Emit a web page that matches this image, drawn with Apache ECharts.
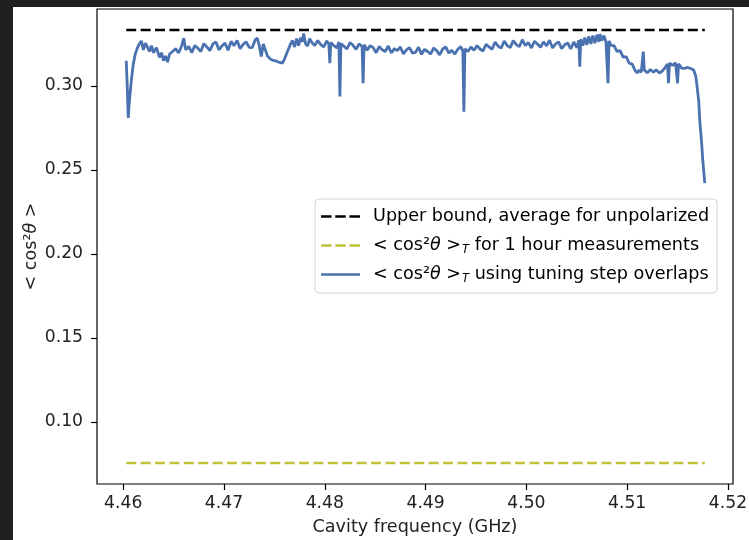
<!DOCTYPE html>
<html>
<head>
<meta charset="utf-8">
<script src="https://cdn.jsdelivr.net/npm/echarts@6/dist/echarts.min.js"></script>
<style>
html, body { margin: 0; padding: 0; background: #1f1f1f; }
#cosChart { width: 749px; height: 540px; }
</style>
</head>
<body>
<div id="cosChart"></div>
<script>
// tick labels
var freqTicks = [4.46, 4.47, 4.48, 4.49, 4.50, 4.51, 4.52];
var cosTicks = [0.10, 0.15, 0.20, 0.25, 0.30];

// flat reference lines (start / end frequency)
var boundFreq = [4.4603, 4.5177];
var upperBound = [0.3333, 0.3333];
var hourAvg = [0.0756, 0.0756];

// <cos^2 theta>_T from tuning step overlaps
var overlapFreq = [
	4.4603, 4.4604, 4.4605, 4.4606, 4.4608, 4.4610, 4.4612, 4.4614, 4.4616, 4.4618,
	4.4620, 4.4622, 4.4624, 4.4626, 4.4628, 4.4630, 4.4633, 4.4636, 4.4638, 4.4640,
	4.4642, 4.4644, 4.4646, 4.4649, 4.4652, 4.4655, 4.4658, 4.4660, 4.4662, 4.4665,
	4.4668, 4.4671, 4.4674, 4.4677, 4.4680, 4.4683, 4.4686, 4.4689, 4.4692, 4.4695,
	4.4698, 4.4701, 4.4704, 4.4707, 4.4710, 4.4713, 4.4716, 4.4719, 4.4722, 4.4725,
	4.4728, 4.4731, 4.4733, 4.4735, 4.4737, 4.4739, 4.4741, 4.4743, 4.4746, 4.4749,
	4.4752, 4.4755, 4.4758, 4.4760, 4.4762, 4.4764, 4.4766, 4.4768, 4.4770, 4.4772,
	4.4774, 4.4776, 4.4778, 4.4779, 4.4781, 4.4783, 4.4785, 4.4787, 4.4790, 4.4793,
	4.4796, 4.4799, 4.4802, 4.4804, 4.4805, 4.4806, 4.4809, 4.4812, 4.4814, 4.4815,
	4.4816, 4.4819, 4.4822, 4.4825, 4.4828, 4.4831, 4.4834, 4.4837, 4.4838, 4.4839,
	4.4842, 4.4845, 4.4848, 4.4851, 4.4854, 4.4857, 4.4860, 4.4863, 4.4866, 4.4869,
	4.4872, 4.4875, 4.4878, 4.4881, 4.4884, 4.4887, 4.4890, 4.4893, 4.4896, 4.4899,
	4.4902, 4.4905, 4.4908, 4.4911, 4.4914, 4.4917, 4.4920, 4.4923, 4.4926, 4.4929,
	4.4932, 4.4935, 4.4937, 4.4938, 4.4939, 4.4942, 4.4945, 4.4948, 4.4951, 4.4954,
	4.4957, 4.4960, 4.4963, 4.4966, 4.4969, 4.4972, 4.4975, 4.4978, 4.4981, 4.4984,
	4.4987, 4.4990, 4.4993, 4.4996, 4.4999, 4.5002, 4.5005, 4.5008, 4.5011, 4.5014,
	4.5017, 4.5020, 4.5023, 4.5026, 4.5029, 4.5032, 4.5035, 4.5038, 4.5041, 4.5044,
	4.5047, 4.5050, 4.5052, 4.5053, 4.5054, 4.5056, 4.5058, 4.5060, 4.5062, 4.5064,
	4.5066, 4.5068, 4.5070, 4.5072, 4.5073, 4.5075, 4.5077, 4.5079, 4.5080, 4.5081,
	4.5082, 4.5084, 4.5087, 4.5090, 4.5093, 4.5096, 4.5099, 4.5102, 4.5105, 4.5108,
	4.5110, 4.5112, 4.5114, 4.5116, 4.5117, 4.5120, 4.5123, 4.5126, 4.5129, 4.5132,
	4.5135, 4.5138, 4.5140, 4.5141, 4.5142, 4.5145, 4.5148, 4.5150, 4.5151, 4.5154,
	4.5157, 4.5160, 4.5163, 4.5166, 4.5168, 4.5169, 4.5171, 4.5172, 4.5174, 4.5175,
	4.5177
];
var overlapCos2 = [
	0.3150, 0.3000, 0.2810, 0.2900, 0.3030, 0.3130, 0.3190, 0.3225, 0.3250, 0.3268,
	0.3215, 0.3255, 0.3232, 0.3205, 0.3240, 0.3198, 0.3228, 0.3170, 0.3198, 0.3150,
	0.3178, 0.3142, 0.3190, 0.3205, 0.3222, 0.3196, 0.3238, 0.3284, 0.3215, 0.3235,
	0.3198, 0.3240, 0.3225, 0.3205, 0.3252, 0.3232, 0.3210, 0.3250, 0.3262, 0.3215,
	0.3238, 0.3255, 0.3212, 0.3265, 0.3240, 0.3270, 0.3222, 0.3248, 0.3262, 0.3230,
	0.3228, 0.3275, 0.3285, 0.3240, 0.3175, 0.3250, 0.3215, 0.3180, 0.3160, 0.3152,
	0.3148, 0.3140, 0.3136, 0.3160, 0.3190, 0.3220, 0.3250, 0.3270, 0.3232, 0.3282,
	0.3240, 0.3288, 0.3262, 0.3312, 0.3250, 0.3238, 0.3282, 0.3260, 0.3240, 0.3270,
	0.3246, 0.3232, 0.3268, 0.3250, 0.3135, 0.3258, 0.3240, 0.3226, 0.3262, 0.2937,
	0.3252, 0.3236, 0.3220, 0.3258, 0.3242, 0.3218, 0.3250, 0.3235, 0.3016, 0.3245,
	0.3212, 0.3240, 0.3228, 0.3198, 0.3236, 0.3215, 0.3205, 0.3238, 0.3196, 0.3222,
	0.3210, 0.3232, 0.3190, 0.3215, 0.3228, 0.3195, 0.3200, 0.3230, 0.3188, 0.3218,
	0.3205, 0.3190, 0.3226, 0.3210, 0.3185, 0.3220, 0.3232, 0.3196, 0.3212, 0.3190,
	0.3218, 0.3235, 0.3205, 0.2847, 0.3222, 0.3205, 0.3232, 0.3212, 0.3240, 0.3220,
	0.3208, 0.3248, 0.3232, 0.3218, 0.3262, 0.3236, 0.3225, 0.3268, 0.3240, 0.3228,
	0.3270, 0.3246, 0.3234, 0.3275, 0.3240, 0.3258, 0.3226, 0.3266, 0.3250, 0.3230,
	0.3262, 0.3238, 0.3272, 0.3226, 0.3250, 0.3262, 0.3222, 0.3245, 0.3256, 0.3220,
	0.3262, 0.3228, 0.3272, 0.3115, 0.3278, 0.3240, 0.3288, 0.3245, 0.3295, 0.3250,
	0.3300, 0.3255, 0.3305, 0.3262, 0.3308, 0.3270, 0.3300, 0.3262, 0.3255, 0.3016,
	0.3268, 0.3242, 0.3240, 0.3205, 0.3210, 0.3172, 0.3175, 0.3135, 0.3130, 0.3090,
	0.3078, 0.3095, 0.3082, 0.3204, 0.3095, 0.3078, 0.3098, 0.3082, 0.3096, 0.3076,
	0.3090, 0.3112, 0.3130, 0.3016, 0.3136, 0.3122, 0.3138, 0.3016, 0.3132, 0.3106,
	0.3105, 0.3110, 0.3104, 0.3095, 0.3060, 0.3016, 0.2910, 0.2798, 0.2650, 0.2560,
	0.2421
];

var seriesNames = [
	'Upper bound, average for unpolarized',
	'< cos²θ >_T for 1 hour measurements',
	'< cos²θ >_T using tuning step overlaps'
];
var legendRich = {
	'Upper bound, average for unpolarized': 'Upper bound, average for unpolarized',
	'< cos²θ >_T for 1 hour measurements': '< cos²{i|θ} >{sub|T} for 1 hour measurements',
	'< cos²θ >_T using tuning step overlaps': '< cos²{i|θ} >{sub|T} using tuning step overlaps'
};
var dashIcon = 'path://M0,0h10.5v2.6h-10.5z M14.2,0h10.5v2.6h-10.5z M28.4,0h10.5v2.6h-10.5z';
var solidIcon = 'path://M0,0h39v2.6h-39z';

function pairs(xs, ys) {
	var out = [];
	for (var i = 0; i < xs.length; i++) {
		out.push([xs[i], ys[i]]);
	}
	return out;
}

var richStyles = {
	i: { fontStyle: 'italic', fontSize: 17.6, fontFamily: 'DejaVu Sans', color: '#000' },
	sub: { fontStyle: 'italic', fontSize: 11.5, fontFamily: 'DejaVu Sans', color: '#000', padding: [9, 0, 0, 1] }
};

var cosChart = echarts.init(document.getElementById('cosChart'));
var option = {
	animation: false,
	backgroundColor: '#ffffff',
	textStyle: { fontFamily: 'DejaVu Sans' },
	graphic: [
		{ type: 'rect', left: 0, top: 0, shape: { width: 749, height: 7 }, style: { fill: '#1f1f1f' }, z: 100 },
		{ type: 'rect', left: 0, top: 0, shape: { width: 13, height: 540 }, style: { fill: '#1f1f1f' }, z: 100 }
	],
	grid: {
		left: 97,
		top: 9,
		right: 16,
		bottom: 56,
		outerBoundsMode: 'none',
		show: true,
		borderColor: '#000',
		borderWidth: 1.2,
		backgroundColor: 'transparent'
	},
	legend: {
		orient: 'vertical',
		left: 315,
		top: 199,
		padding: [7, 8, 8, 6],
		itemGap: 8,
		itemWidth: 39,
		itemHeight: 2.6,
		backgroundColor: 'rgba(255,255,255,0.85)',
		borderColor: '#d4d4d4',
		borderWidth: 1,
		borderRadius: 4,
		data: [
			{ name: seriesNames[0], icon: dashIcon },
			{ name: seriesNames[1], icon: dashIcon },
			{ name: seriesNames[2], icon: solidIcon }
		],
		formatter: function (name) {
			return legendRich[name];
		},
		textStyle: {
			fontSize: 17.6,
			lineHeight: 21,
			fontFamily: 'DejaVu Sans',
			color: '#000',
			padding: [0, 0, 0, 8],
			rich: richStyles
		}
	},
	xAxis: {
		type: 'value',
		min: 4.4574,
		max: 4.5205,
		name: 'Cavity frequency (GHz)',
		nameLocation: 'middle',
		nameGap: 34,
		nameTextStyle: { fontSize: 17.6, color: '#222', fontFamily: 'DejaVu Sans' },
		axisLine: { show: false },
		splitLine: { show: false },
		axisTick: {
			show: true,
			length: 6,
			customValues: freqTicks,
			lineStyle: { color: '#000', width: 1.2 }
		},
		axisLabel: {
			customValues: freqTicks,
			margin: 11,
			fontSize: 17.2,
			color: '#222',
			fontFamily: 'DejaVu Sans',
			formatter: function (v) { return v.toFixed(2); }
		}
	},
	yAxis: {
		type: 'value',
		min: 0.0631,
		max: 0.3458,
		name: '< cos²{i|θ} >',
		nameLocation: 'middle',
		nameGap: 57,
		nameMoveOverlap: false,
		nameTextStyle: {
			fontSize: 17.6,
			color: '#222',
			fontFamily: 'DejaVu Sans',
			rich: { i: { fontStyle: 'italic', fontSize: 17.6, fontFamily: 'DejaVu Sans', color: '#222' } }
		},
		axisLine: { show: false },
		splitLine: { show: false },
		axisTick: {
			show: true,
			length: 6,
			customValues: cosTicks,
			lineStyle: { color: '#000', width: 1.2 }
		},
		axisLabel: {
			customValues: cosTicks,
			margin: 14,
			fontSize: 17.2,
			color: '#222',
			fontFamily: 'DejaVu Sans',
			formatter: function (v) { return v.toFixed(2); }
		}
	},
	series: [
		{
			name: seriesNames[0],
			type: 'line',
			showSymbol: false,
			symbol: 'none',
			data: pairs(boundFreq, upperBound),
			lineStyle: { color: '#000', width: 2.6, type: [10, 4.4] },
			itemStyle: { color: '#000' }
		},
		{
			name: seriesNames[1],
			type: 'line',
			showSymbol: false,
			symbol: 'none',
			data: pairs(boundFreq, hourAvg),
			lineStyle: { color: '#c2c23a', width: 2.6, type: [10, 4.4] },
			itemStyle: { color: '#c2c23a' }
		},
		{
			name: seriesNames[2],
			type: 'line',
			showSymbol: false,
			symbol: 'none',
			data: pairs(overlapFreq, overlapCos2),
			lineStyle: { color: '#4a72b0', width: 2.8 },
			itemStyle: { color: '#4a72b0' }
		}
	]
};
cosChart.setOption(option);
</script>
</body>
</html>
